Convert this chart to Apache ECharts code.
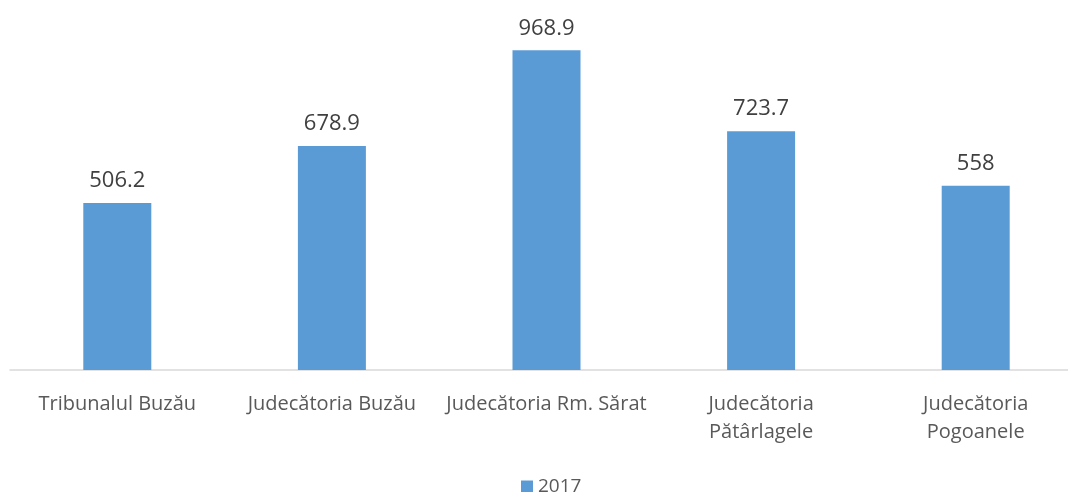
<!DOCTYPE html>
<html>
<head>
<meta charset="utf-8">
<script src="https://cdn.jsdelivr.net/npm/echarts@6/dist/echarts.min.js"></script>
<style>
    html, body { margin: 0; padding: 0; background: #fff; overflow: hidden; }
    #chart { width: 1083px; height: 492px; }
</style>
</head>
<body>
<div id="chart"></div>
<script>
    const categories = ['Tribunalul Buzău', 'Judecătoria Buzău', 'Judecătoria Rm. Sărat', 'Judecătoria\nPătârlagele', 'Judecătoria\nPogoanele']
    const values2017 = [506.2, 678.9, 968.9, 723.7, 558]
    const seriesName = '2017'

    let chart = echarts.init(document.getElementById('chart'))
    let option = {
        animation: false,
        textStyle: { fontFamily: 'Open Sans' },
        legend: {
            top: 472,
            left: 516,
            itemWidth: 12,
            itemHeight: 12,
            itemGap: 6,
            icon: 'rect',
            textStyle: { color: '#595959', fontSize: 19, fontFamily: 'Open Sans' },
            data: [seriesName]
        },
        grid: {
            left: 10,
            right: 0,
            top: 40,
            height: 330
        },
        xAxis: {
            type: 'category',
            data: categories,
            axisLine: { lineStyle: { color: '#d9d9d9', width: 1.5 } },
            axisTick: { show: false },
            axisLabel: {
                color: '#595959',
                fontSize: 20,
                margin: 20,
                lineHeight: 28,
                interval: 0
            }
        },
        yAxis: {
            type: 'value',
            min: 0,
            max: 1000,
            show: false,
            splitLine: { show: false }
        },
        series: [{
            name: seriesName,
            type: 'bar',
            data: values2017,
            barWidth: 68,
            itemStyle: { color: '#5b9bd5' },
            label: {
                show: true,
                position: 'top',
                distance: 11,
                color: '#404040',
                fontSize: 22
            }
        }]
    }
    chart.setOption(option)
</script>
</body>
</html>
